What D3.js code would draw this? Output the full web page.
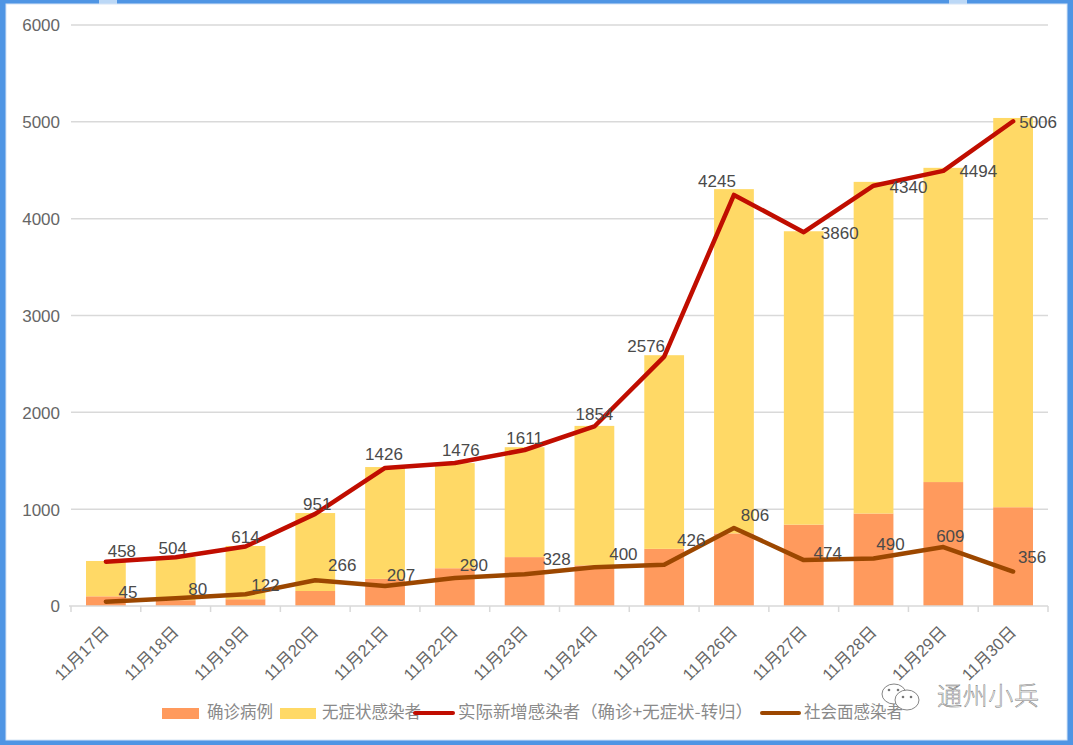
<!DOCTYPE html>
<html><head><meta charset="utf-8">
<script src="https://cdn.jsdelivr.net/npm/d3@7/dist/d3.min.js"></script>
<style>html,body{margin:0;padding:0;background:#fff}svg{display:block}</style>
</head><body><svg id="c" width="1073" height="745"></svg>
<script>
const dates = ["11月17日","11月18日","11月19日","11月20日","11月21日","11月22日","11月23日","11月24日","11月25日","11月26日","11月27日","11月28日","11月29日","11月30日"];
const confirmed = [100,60,70,155,280,390,505,420,590,750,840,955,1280,1020];
const asymptomatic = [365,445,550,805,1155,1086,1135,1440,2000,3555,3030,3425,3245,4020];
const actualNew = [458,504,614,951,1426,1476,1611,1854,2576,4245,3860,4340,4494,5006];
const community = [45,80,122,266,207,290,328,400,426,806,474,490,609,356];
const yTicks = [0,1000,2000,3000,4000,5000,6000];
const legendNames = ["确诊病例","无症状感染者","实际新增感染者（确诊+无症状-转归）","社会面感染者"];
// label nudges (dx, dy) relative to each point
const actualNudge = [[16,-11],[-3,-9],[0,-10],[2,-10],[-1,-14],[6,-13],[0,-12],[0,-12],[-18,-11],[-17,-14],[36,1],[35,1],[35,0],[25,1]];
const communityNudge = [[22,-10],[22,-9],[20,-9],[27,-15],[16,-11],[19,-13],[32,-15],[29,-13],[27,-25],[21,-13],[24,-7],[17,-15],[7,-11],[19,-15]];

const svg = d3.select("#c");
const font = "'Liberation Sans', Arial, sans-serif";
const cjk = "'Liberation Sans','Noto Sans CJK SC',sans-serif";
const blue = "#4f95e4";

// frame
svg.append("rect").attr("width",1073).attr("height",745).attr("fill",blue);
svg.append("rect").attr("x",99).attr("y",0).attr("width",18).attr("height",5).attr("fill","#bcd8f6");
svg.append("rect").attr("x",949).attr("y",0).attr("width",18).attr("height",5).attr("fill","#bcd8f6");
svg.append("rect").attr("x",6).attr("y",4).attr("width",1061).attr("height",736).attr("fill","#fff").attr("stroke","#d5e4f5").attr("stroke-width",1);

const x = d3.scaleBand().domain(dates).range([71,1048]).paddingInner(0.43).paddingOuter(0.215);
const y = d3.scaleLinear().domain([0,6000]).range([606,25]);
const cx = d => x(d) + x.bandwidth()/2;

// gridlines
svg.append("g").selectAll("line").data(yTicks.filter(t=>t>0)).join("line")
  .attr("x1",71).attr("x2",1048).attr("y1",d=>y(d)).attr("y2",d=>y(d))
  .attr("stroke","#d9d9d9").attr("stroke-width",1.5);

// y labels
svg.append("g").selectAll("text").data(yTicks).join("text")
  .attr("x",60).attr("y",d=>y(d)+2).attr("text-anchor","end").attr("dominant-baseline","middle")
  .attr("font-family",font).attr("font-size",17).attr("fill","#666").text(d=>d);

// bars
const stacked = d3.stack().keys(["c","a"])(dates.map((d,i)=>({d,c:confirmed[i],a:asymptomatic[i]})));
const barColors = ["#ff9a5d","#ffd966"];
svg.append("g").selectAll("g").data(stacked).join("g").attr("fill",(d,i)=>barColors[i])
  .selectAll("rect").data(s=>s).join("rect")
  .attr("x",d=>x(d.data.d)).attr("width",x.bandwidth())
  .attr("y",d=>y(d[1])).attr("height",d=>y(d[0])-y(d[1]));

// x axis line and ticks
const ax = svg.append("g").attr("stroke","#d9d9d9").attr("stroke-width",1.5);
ax.append("line").attr("x1",69).attr("x2",1048).attr("y1",y(0)).attr("y2",y(0));
ax.selectAll(".t").data(dates.concat(["end"])).join("line").attr("class","t")
  .attr("x1",(d,i)=>71+i*(1048-71)/14).attr("x2",(d,i)=>71+i*(1048-71)/14)
  .attr("y1",y(0)).attr("y2",y(0)+6);

// x labels
svg.append("g").selectAll("text").data(dates).join("text")
  .attr("transform",d=>`translate(${cx(d)+1},${630}) rotate(-45)`)
  .attr("text-anchor","end").attr("dominant-baseline","middle")
  .attr("font-family",cjk).attr("font-size",16.5).attr("fill","#666").text(d=>d);

// lines
const line = d3.line().x((d,i)=>cx(dates[i])).y(d=>y(d));
svg.append("path").attr("d",line(actualNew)).attr("fill","none").attr("stroke","#c00d00").attr("stroke-width",4.5).attr("stroke-linecap","round").attr("stroke-linejoin","round");
svg.append("path").attr("d",line(community)).attr("fill","none").attr("stroke","#9c4700").attr("stroke-width",4.5).attr("stroke-linecap","round").attr("stroke-linejoin","round");

// data labels
function labels(vals,nudge){
  svg.append("g").selectAll("text").data(vals).join("text")
    .attr("x",(d,i)=>cx(dates[i])+nudge[i][0]).attr("y",(d,i)=>y(d)+nudge[i][1]+1.5)
    .attr("text-anchor","middle").attr("dominant-baseline","middle")
    .attr("font-family",font).attr("font-size",17).attr("fill","#4a4a4a").text(d=>d);
}
labels(actualNew,actualNudge);
labels(community,communityNudge);

// legend
const lg = svg.append("g").attr("font-family","'Noto Sans CJK SC',sans-serif").attr("font-size",16.5).attr("fill","#8a8a8a");
const lgY = 714;
lg.append("rect").attr("x",162).attr("y",lgY-6).attr("width",37).attr("height",11).attr("fill",barColors[0]);
lg.append("text").attr("x",207).attr("y",lgY).attr("dominant-baseline","middle").text(legendNames[0]);
lg.append("rect").attr("x",280).attr("y",lgY-6).attr("width",36).attr("height",11).attr("fill",barColors[1]);
lg.append("text").attr("x",322).attr("y",lgY).attr("dominant-baseline","middle").text(legendNames[1]);
lg.append("line").attr("x1",415).attr("x2",453).attr("y1",lgY-1).attr("y2",lgY-1).attr("stroke","#c00d00").attr("stroke-width",4).attr("stroke-linecap","round");
lg.append("text").attr("x",458).attr("y",lgY).attr("dominant-baseline","middle").attr("textLength",295).attr("lengthAdjust","spacingAndGlyphs").text(legendNames[2]);
lg.append("line").attr("x1",762).attr("x2",799).attr("y1",lgY-1).attr("y2",lgY-1).attr("stroke","#9c4700").attr("stroke-width",4).attr("stroke-linecap","round");
lg.append("text").attr("x",804).attr("y",lgY).attr("dominant-baseline","middle").text(legendNames[3]);

// watermark
const wm = svg.append("g");
const wmStroke = "#777";
wm.append("ellipse").attr("cx",894).attr("cy",694).attr("rx",12).attr("ry",10).attr("fill","#fff").attr("stroke",wmStroke).attr("stroke-width",0.9);
wm.append("ellipse").attr("cx",907).attr("cy",700).attr("rx",12).attr("ry",10).attr("fill","#fff").attr("stroke",wmStroke).attr("stroke-width",0.9);
wm.selectAll(".eye").data([[889,690],[898,690],[903,697],[911,697]]).join("circle").attr("class","eye")
  .attr("cx",d=>d[0]).attr("cy",d=>d[1]).attr("r",1.3).attr("fill",wmStroke);
wm.append("text").attr("x",937).attr("y",698).attr("dominant-baseline","middle")
  .attr("font-family","'Noto Sans CJK SC',sans-serif").attr("font-size",25).attr("font-weight",300)
  .attr("fill","#fff").attr("stroke",wmStroke).attr("stroke-width",0.5).attr("textLength",102).text("通州小兵");
</script></body></html>
